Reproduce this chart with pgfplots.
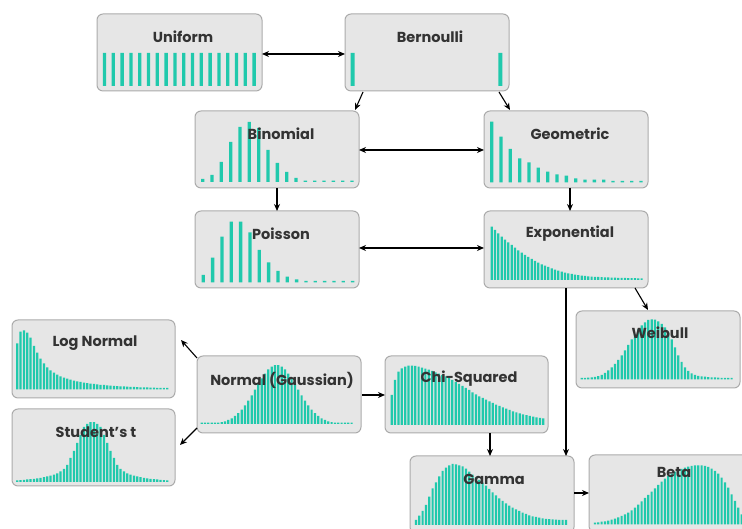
\documentclass[border=0pt]{standalone}
\usepackage{fontspec}
\setmainfont{Poppins}
\usepackage{pgfplots}
\pgfplotsset{compat=1.18}
\usetikzlibrary{arrows.meta}

\definecolor{barc}{HTML}{20C9AC}
\definecolor{boxfill}{HTML}{E6E6E6}
\definecolor{boxline}{HTML}{ABABAB}
\definecolor{txt}{HTML}{333333}

\pgfplotsset{
  dist/.style={hide axis, scale only axis, anchor=south west, clip=false,
    ymin=0, ymax=60, height=60pt, xmin=0.5, ybar, bar width=#1,
    every axis plot post/.append style={fill=barc, draw=none}},
  dense/.style={dist=2.2pt, xmax=46.5, width=#1},
}

\begin{document}
\begin{tikzpicture}[x=1pt, y=1pt,
  box/.style={fill=boxfill, draw=boxline, line width=1pt, rounded corners=6pt},
  lbl/.style={font=\fontsize{14.5}{16}\selectfont\bfseries, text=txt},
  arr/.style={-{Stealth[length=7pt,width=6pt]}, line width=1.1pt},
  darr/.style={{Stealth[length=7pt,width=6pt]}-{Stealth[length=7pt,width=6pt]}, line width=1.1pt}]
\useasboundingbox (0,0) rectangle (742,529);
\clip (0,0) rectangle (742,529);

% boxes
\draw[box] (97,438) rectangle (262,515);   % Uniform
\draw[box] (345,438) rectangle (509,515);  % Bernoulli
\draw[box] (195,341) rectangle (359,418);  % Binomial
\draw[box] (484,341) rectangle (648,418);  % Geometric
\draw[box] (195,241) rectangle (359,318);  % Poisson
\draw[box] (484,241) rectangle (648,318);  % Exponential
\draw[box] (12,131) rectangle (175,209);   % Log Normal
\draw[box] (12,43) rectangle (175,120);    % Student's t
\draw[box] (197,96) rectangle (361,173);   % Normal
\draw[box] (385,96) rectangle (548,173);   % Chi-Squared
\draw[box] (576,141) rectangle (740,218);  % Weibull
\draw[box] (410,-4) rectangle (574,73);    % Gamma
\draw[box] (589,-3) rectangle (753,74);    % Beta

% Uniform
\begin{axis}[dist=3.3pt, xmax=18.5, width=158.4pt, at={(100.1pt,443pt)}]
\addplot coordinates {(1,33) (2,33) (3,33) (4,33) (5,33) (6,33) (7,33) (8,33) (9,33)
  (10,33) (11,33) (12,33) (13,33) (14,33) (15,33) (16,33) (17,33) (18,33)};
\end{axis}

% Bernoulli
\begin{axis}[dist=4pt, xmax=18.5, width=156.6pt, at={(348.15pt,443pt)}]
\addplot coordinates {(1,33) (18,33)};
\end{axis}

% Binomial
\begin{axis}[dist=3.3pt, xmax=17.5, width=158.7pt, at={(198pt,347pt)}]
\addplot coordinates {(1,3) (2,7) (3,20) (4,40) (5,55) (6,60) (7,54) (8,32) (9,19)
  (10,10) (11,4) (12,1.3) (13,1.3) (14,1.3) (15,1.3) (16,1.3) (17,1.3)};
\end{axis}

% Geometric
\begin{axis}[dist=3.3pt, xmax=17.5, width=158.7pt, at={(487pt,346.7pt)}]
\addplot coordinates {(1,60.7) (2,45.7) (3,33.3) (4,24) (5,20) (6,14.7) (7,10.7) (8,8) (9,6.7)
  (10,4) (11,2.7) (12,2.7) (13,2.7) (14,1.3) (15,1.3) (16,1.3) (17,1.3)};
\end{axis}

% Poisson
\begin{axis}[dist=3.3pt, xmax=17.5, width=158.7pt, at={(198.6pt,246.7pt)}]
\addplot coordinates {(1,7.3) (2,24.7) (3,45.7) (4,60.7) (5,60.7) (6,50) (7,32.3) (8,20) (9,11.3)
  (10,5.7) (11,3) (12,1.3) (13,1.3) (14,1.3) (15,1.3) (16,1.3) (17,1.3)};
\end{axis}

% Exponential
\begin{axis}[dense=153.3pt, at={(490pt,249pt)}]
\addplot coordinates {(1,53.3) (2,50) (3,46.7) (4,43.3) (5,40.3) (6,37.7) (7,35) (8,32.3)
  (9,29.7) (10,27.3) (11,25) (12,23) (13,21) (14,19) (15,17.3) (16,15.7) (17,14.3) (18,13)
  (19,11.7) (20,10.3) (21,9.3) (22,8.3) (23,7.3) (24,6.7) (25,6) (26,5.3) (27,4.8) (28,4.3)
  (29,4) (30,3.7) (31,3.3) (32,3.2) (33,3) (34,2.8) (35,2.7) (36,2.5) (37,2.3) (38,2.3)
  (39,2.2) (40,2.1) (41,2) (42,1.9) (43,1.8) (44,1.8) (45,1.7) (46,1.7)};
\end{axis}

% Log Normal
\begin{axis}[dense=153.3pt, at={(15.6pt,139.7pt)}]
\addplot coordinates {(1,46) (2,57.7) (3,59) (4,56.7) (5,51.7) (6,43.3) (7,36.7) (8,30.7)
  (9,26) (10,22) (11,19) (12,16.7) (13,14.7) (14,13) (15,11.7) (16,10.7) (17,9.7) (18,8.7)
  (19,8) (20,7.3) (21,6.7) (22,6.2) (23,5.7) (24,5.3) (25,5) (26,4.5) (27,4.3) (28,4)
  (29,3.7) (30,3.4) (31,3.2) (32,3) (33,2.8) (34,2.6) (35,2.4) (36,2.3) (37,2.2) (38,2)
  (39,1.9) (40,1.8) (41,1.7) (42,1.6) (43,1.5) (44,1.5) (45,1.4) (46,1.4)};
\end{axis}

% Student's t
\begin{axis}[dense=153.3pt, at={(15.6pt,47pt)}]
\addplot coordinates {(1,1.6) (2,1.9) (3,2.2) (4,2.5) (5,2.8) (6,3.2) (7,3.7) (8,4.2)
  (9,4.8) (10,5.5) (11,6.3) (12,7.3) (13,8.7) (14,10.5) (15,13) (16,17) (17,24) (18,31)
  (19,39) (20,47) (21,55) (22,58) (23,59.8) (24,59.8) (25,58) (26,55) (27,47) (28,39)
  (29,31) (30,24) (31,17) (32,13) (33,10.5) (34,8.7) (35,7.3) (36,6.3) (37,5.5) (38,4.8)
  (39,4.2) (40,3.7) (41,3.2) (42,2.8) (43,2.5) (44,2.2) (45,1.9) (46,1.6)};
\end{axis}

% Normal (Gaussian)
\begin{axis}[dense=153.3pt, at={(200pt,105pt)}]
\addplot coordinates {(1,1.3) (2,1.3) (3,1.3) (4,1.3) (5,1.3) (6,1.3) (7,1.8) (8,2.7)
  (9,4) (10,5.7) (11,8) (12,10.8) (13,14.4) (14,18.6) (15,23.4) (16,28.7) (17,34.3) (18,40)
  (19,45.5) (20,50.4) (21,54.5) (22,57.3) (23,58.8) (24,58.8) (25,57.3) (26,54.5) (27,50.4) (28,45.5)
  (29,40) (30,34.3) (31,28.7) (32,23.4) (33,18.6) (34,14.4) (35,10.8) (36,8) (37,5.7) (38,4)
  (39,2.7) (40,1.8) (41,1.3) (42,1.3) (43,1.3) (44,1.3) (45,1.3) (46,1.3)};
\end{axis}

% Chi-Squared
\begin{axis}[dense=155pt, at={(390pt,104pt)}]
\addplot coordinates {(1,30) (2,45) (3,53.3) (4,56.7) (5,58.3) (6,59.3) (7,59.3) (8,59)
  (9,58.3) (10,57.3) (11,56.3) (12,55.3) (13,54) (14,52.7) (15,51.3) (16,50) (17,48.7) (18,47)
  (19,45) (20,43) (21,41) (22,39) (23,37) (24,35) (25,32.7) (26,30.7) (27,28.7) (28,27)
  (29,25.3) (30,23.7) (31,22) (32,20.3) (33,19) (34,17.7) (35,16.3) (36,15) (37,13.7) (38,12.7)
  (39,11.7) (40,10.7) (41,9.8) (42,9) (43,8.3) (44,7.7) (45,7.2) (46,6.7)};
\end{axis}

% Weibull
\begin{axis}[dense=153.3pt, at={(580pt,149.7pt)}]
\addplot coordinates {(1,1.3) (2,1.4) (3,1.6) (4,1.9) (5,2.4) (6,3.2) (7,4.5) (8,6.5)
  (9,9) (10,12) (11,15.5) (12,19.5) (13,24) (14,29) (15,34.5) (16,40) (17,45) (18,50)
  (19,54) (20,57) (21,59.3) (22,60) (23,59.7) (24,58) (25,55.5) (26,52) (27,46.5) (28,40)
  (29,32) (30,24) (31,17.5) (32,12) (33,8.5) (34,6) (35,4.5) (36,3.5) (37,3) (38,2.6)
  (39,2.2) (40,2) (41,1.8) (42,1.6) (43,1.5) (44,1.4) (45,1.3) (46,1.3)};
\end{axis}

% Gamma
\begin{axis}[dense=153.3pt, at={(414.3pt,4pt)}]
\addplot coordinates {(1,5) (2,9.3) (3,14) (4,20) (5,28.3) (6,36.7) (7,42.7) (8,48.7)
  (9,54) (10,57.3) (11,59.7) (12,61) (13,60.7) (14,59.7) (15,58.7) (16,56.3) (17,53.3) (18,50.3)
  (19,47.7) (20,45) (21,42.3) (22,39.3) (23,36) (24,32.7) (25,29.7) (26,26.7) (27,24) (28,21.7)
  (29,19.3) (30,17.3) (31,15.7) (32,14) (33,12.3) (34,11) (35,9.7) (36,8.7) (37,8) (38,7.3)
  (39,6.7) (40,6.2) (41,5.8) (42,5.5) (43,5.3) (44,5.2) (45,5) (46,5)};
\end{axis}

% Beta
\begin{axis}[dense=153.3pt, at={(593.3pt,4.7pt)}]
\addplot coordinates {(1,1.7) (2,2) (3,2.7) (4,3) (5,3.7) (6,4.7) (7,5.7) (8,7)
  (9,8.3) (10,10) (11,11.7) (12,14) (13,16.7) (14,19.7) (15,23) (16,26.3) (17,29.3) (18,32.7)
  (19,36) (20,39.3) (21,42.7) (22,45.7) (23,48.3) (24,50.7) (25,52.7) (26,54) (27,55.3) (28,56.7)
  (29,57.7) (30,58.3) (31,59) (32,59) (33,59) (34,58.3) (35,57.3) (36,55.7) (37,53.3) (38,50.7)
  (39,46.7) (40,42) (41,36.7) (42,30) (43,23.3) (44,16.7) (45,10) (46,3.3)};
\end{axis}

% labels
\node[lbl] at (183,492) {Uniform};
\node[lbl] at (430,492) {Bernoulli};
\node[lbl] at (281,395) {Binomial};
\node[lbl] at (570,395) {Geometric};
\node[lbl] at (281,295) {Poisson};
\node[lbl] at (570,295) {Exponential};
\node[lbl] at (95,186) {Log Normal};
\node[lbl] at (96,97) {Student’s t};
\node[lbl] at (282,149) {Normal (Gaussian)};
\node[lbl] at (469,150) {Chi-Squared};
\node[lbl] at (660,196) {Weibull};
\node[lbl] at (494,50) {Gamma};
\node[lbl] at (674,57) {Beta};

% arrows
\draw[darr] (262,475) -- (345,475);
\draw[arr] (363,437) -- (355,419);
\draw[arr] (499,437) -- (510,419);
\draw[darr] (359,379) -- (484,379);
\draw[arr] (277,341) -- (277,318);
\draw[arr] (570,341) -- (570,318);
\draw[darr] (359,281) -- (484,281);
\draw[arr] (635,241) -- (648,219);
\draw[arr] (566,241) -- (566,73);
\draw[arr] (490,96) -- (490,73);
\draw[arr] (362,134) -- (385,134);
\draw[arr] (197,171) -- (181,189);
\draw[arr] (197,101) -- (180,84);
\draw[arr] (574,36) -- (589,36);
\end{tikzpicture}
\end{document}
